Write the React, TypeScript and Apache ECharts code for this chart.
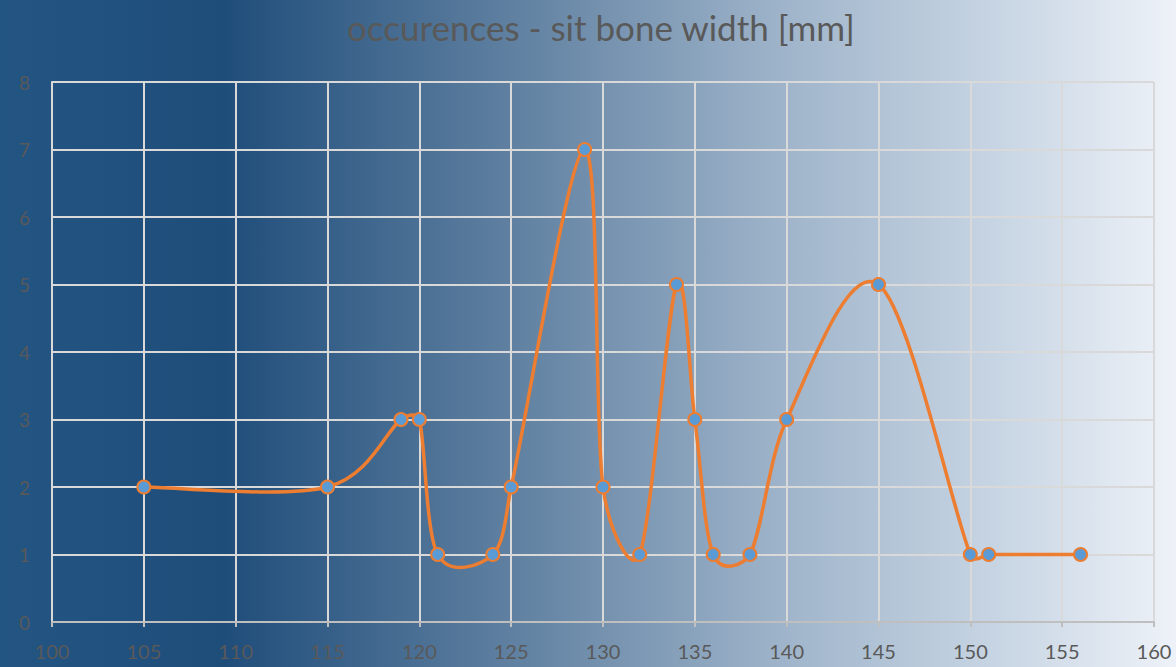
import React, { useEffect, useRef } from "react";
import * as echarts from "echarts";

const widths = [105, 115, 119, 120, 121, 124, 125, 129, 130, 132, 134, 135, 136, 138, 140, 145, 150, 151, 156];
const occurrences = [2, 2, 3, 3, 1, 1, 2, 7, 2, 1, 5, 3, 1, 1, 3, 5, 1, 1, 1];
const titleText = "occurences - sit bone width [mm]";

export default function App() {
  const ref = useRef<HTMLDivElement>(null);
  useEffect(() => {
    document.body.style.margin = "0";
    const chart = echarts.init(ref.current!, null, { renderer: "svg" });
    const font = "Lato, 'Open Sans', sans-serif";
    const points = widths.map((w, i) => [w, occurrences[i]]);
    const dist = (a: number[], b: number[]) => Math.hypot(b[0] - a[0], b[1] - a[1]);
    const arm = (from: number[], to: number[], segLen: number, k: number) => {
      let ax = (to[0] - from[0]) / 6;
      let ay = (to[1] - from[1]) / 6;
      const len = Math.hypot(ax, ay);
      const maxLen = segLen * k;
      if (len > maxLen && len > 0) {
        ax = (ax * maxLen) / len;
        ay = (ay * maxLen) / len;
      }
      return [ax, ay];
    };
    chart.setOption({
      animation: false,
      backgroundColor: new echarts.graphic.LinearGradient(0, 0, 1, 0, [
        { offset: 0, color: "#235583" },
        { offset: 0.19, color: "#1f4d7a" },
        { offset: 0.43, color: "#5e7fa0" },
        { offset: 0.67, color: "#a0b5cb" },
        { offset: 0.86, color: "#cad7e5" },
        { offset: 1, color: "#eef2f8" },
      ]),
      title: {
        text: titleText,
        left: 342,
        top: 4,
        textStyle: { color: "#595959", fontSize: 35, fontWeight: "normal", fontFamily: font },
      },
      grid: { left: 52, right: 22, top: 82, bottom: 45, containLabel: false },
      xAxis: {
        type: "value",
        min: 100,
        max: 160,
        interval: 5,
        axisLine: { show: true, lineStyle: { color: "#bfbfbf", width: 2 } },
        axisTick: { show: true, length: 5, inside: false, lineStyle: { color: "#bfbfbf", width: 2 } },
        axisLabel: { color: "#595959", fontSize: 20, fontFamily: font, margin: 19 },
        splitLine: { show: true, lineStyle: { color: "#d9d9d9", width: 2 } },
      },
      yAxis: {
        type: "value",
        min: 0,
        max: 8,
        interval: 1,
        axisLine: { show: true, lineStyle: { color: "#d9d9d9", width: 2 } },
        axisTick: { show: false },
        axisLabel: { color: "#595959", fontSize: 19, fontFamily: font, margin: 22 },
        splitLine: { show: true, lineStyle: { color: "#d9d9d9", width: 2 } },
      },
      series: [
        {
          type: "custom",
          data: points,
          silent: true,
          renderItem: (params: any, api: any) => {
            if (params.dataIndex !== 0) return null;
            const c = points.map((p) => api.coord(p));
            let d = `M${c[0][0]},${c[0][1]}`;
            for (let i = 0; i < c.length - 1; i++) {
              const p0 = c[Math.max(0, i - 1)];
              const p1 = c[i];
              const p2 = c[i + 1];
              const p3 = c[Math.min(c.length - 1, i + 2)];
              const d12 = dist(p1, p2);
              const a1 = arm(p0, p2, d12, 0.6);
              const a2 = arm(p1, p3, d12, 0.3);
              const c1x = p1[0] + a1[0];
              const c1y = p1[1] + a1[1];
              const c2x = p2[0] - a2[0];
              const c2y = p2[1] - a2[1];
              d += ` C${c1x},${c1y} ${c2x},${c2y} ${p2[0]},${p2[1]}`;
            }
            return {
              type: "path",
              shape: { pathData: d },
              style: { fill: "none", stroke: "#ed7d31", lineWidth: 3.5, lineJoin: "round", lineCap: "round" },
            };
          },
          z: 2,
        },
        {
          type: "scatter",
          data: points,
          symbol: "circle",
          symbolSize: 13,
          itemStyle: { color: "#5b9bd5", borderColor: "#ed7d31", borderWidth: 2, opacity: 1 },
          z: 3,
        },
      ],
    });
    return () => chart.dispose();
  }, []);
  return <div ref={ref} style={{ width: 1176, height: 667 }} />;
}
